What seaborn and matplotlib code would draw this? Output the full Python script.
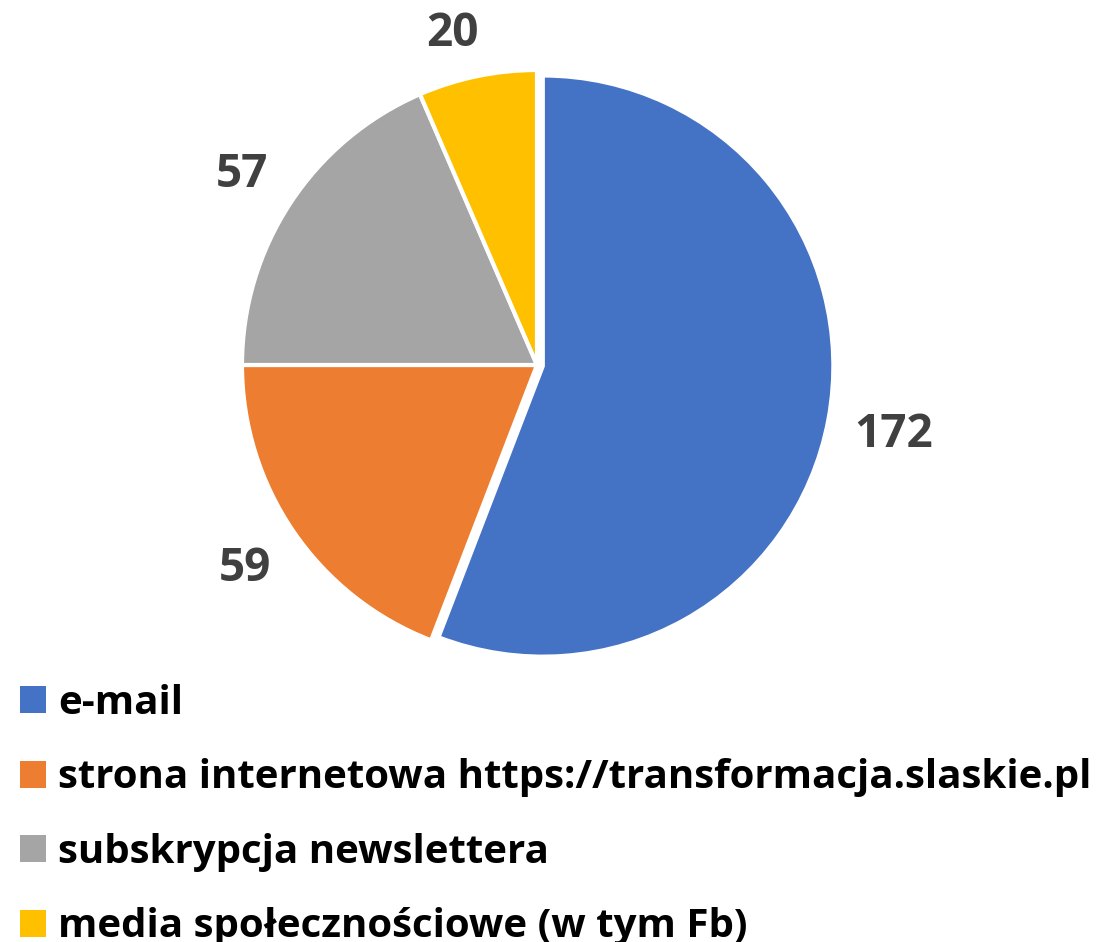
import matplotlib.pyplot as plt
from matplotlib.patches import Patch
import seaborn as sns
import numpy as np

# dane
kategorie = ['e-mail',
             'strona internetowa https://transformacja.slaskie.pl',
             'subskrypcja newslettera',
             'media społecznościowe (w tym Fb)']
wartosci = [172, 59, 57, 20]
kolory = ['#4472C4', '#ED7D31', '#A5A5A5', '#FFC000']
etykiety = [str(v) for v in wartosci]
odleglosci = [1.23, 1.2, 1.195, 1.17]  # distanza delle etichette dal centro
spostamento = [0, 0, 0, 2.5]  # correzione angolare (gradi) delle etichette

sns.set_theme(style='white')
plt.rcParams['font.family'] = ['Open Sans', 'DejaVu Sans']

W, H = 1113, 942
fig = plt.figure(figsize=(W / 100, H / 100), dpi=100)

# pie: centro (537, 365) px, raggio 295 px
cx, cy, r = 537, 365, 295
lim = 1.3
ax = fig.add_axes([(cx - lim * r) / W, (H - cy - lim * r) / H, 2 * lim * r / W, 2 * lim * r / H])

wedges, testi = ax.pie(wartosci, labels=etykiety, colors=kolory, startangle=90,
                       counterclock=False, explode=[0.02, 0, 0, 0], labeldistance=1.2,
                       wedgeprops=dict(edgecolor='white', linewidth=3),
                       textprops=dict(color='#404040', fontsize=33, fontweight='bold'))
wedges[0].set_radius(0.985)
for w, t, d, s in zip(wedges, testi, odleglosci, spostamento):
    ang = np.deg2rad((w.theta1 + w.theta2) / 2 + s)
    t.set_position((d * np.cos(ang), d * np.sin(ang) - 0.012))
    t.set_horizontalalignment('center')
    t.set_verticalalignment('center')
ax.set_xlim(-lim, lim)
ax.set_ylim(-lim, lim)
ax.set_aspect('equal')
ax.axis('off')

handles = [Patch(facecolor=c, edgecolor='none') for c in kolory]
fig.legend(handles, kategorie, loc='upper left', bbox_to_anchor=(20 / W, 1 - 684 / H),
           frameon=False, prop=dict(size=29, weight='bold'), labelcolor='black',
           handlelength=0.65, handleheight=0.65, handletextpad=0.3, labelspacing=0.88,
           borderaxespad=0, borderpad=0)

fig.savefig('out.png', dpi=100)
